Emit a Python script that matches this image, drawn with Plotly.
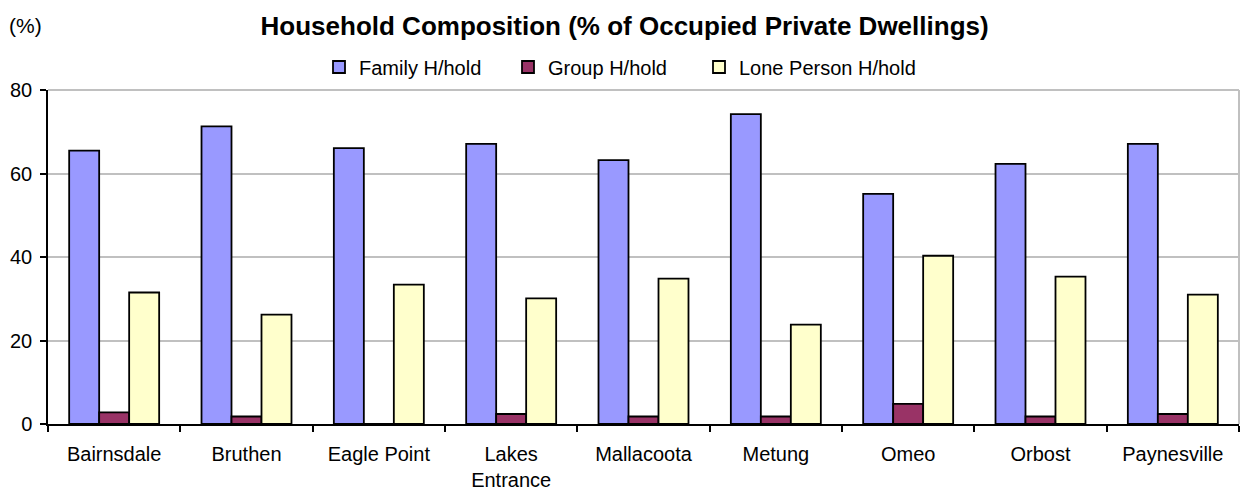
import plotly.graph_objects as go

categories = ["Bairnsdale", "Bruthen", "Eagle Point", "Lakes<br>Entrance", "Mallacoota",
              "Metung", "Omeo", "Orbost", "Paynesville"]
family = [65.5, 71.3, 66.1, 67.1, 63.2, 74.2, 55.1, 62.3, 67.1]
group = [2.8, 1.8, 0.0, 2.4, 1.8, 1.8, 4.8, 1.8, 2.4]
lone = [31.5, 26.2, 33.4, 30.1, 34.8, 23.8, 40.3, 35.3, 31.0]
y_ticks = [0, 20, 40, 60, 80]

FONT = "Liberation Sans, Arial, sans-serif"

fig = go.Figure()
fig.add_bar(x=categories, y=family, name="Family H/hold", legend="legend",
            marker=dict(color="#9999FF", line=dict(color="#000000", width=1.8)))
fig.add_bar(x=categories, y=group, name="Group H/hold", legend="legend2",
            marker=dict(color="#993366", line=dict(color="#000000", width=1.8)))
fig.add_bar(x=categories, y=lone, name="Lone Person H/hold", legend="legend3",
            marker=dict(color="#FFFFCC", line=dict(color="#000000", width=1.8)))


def legend_at(xpx):
    return dict(orientation="h", xref="container", yref="container",
                x=xpx / 1243, xanchor="left", y=1 - 67 / 496, yanchor="middle",
                font=dict(family=FONT, size=20), bgcolor="rgba(0,0,0,0)",
                itemwidth=30)


fig.update_layout(
    width=1243, height=496,
    margin=dict(l=48, r=4, t=90, b=72, autoexpand=False),
    paper_bgcolor="white", plot_bgcolor="white",
    barmode="group", bargap=0.32, bargroupgap=0,
    font=dict(family=FONT, size=20, color="#000000"),
    title=dict(text="<b>Household Composition (% of Occupied Private Dwellings)</b>",
               xref="container", yref="container",
               x=0.5025, xanchor="center", y=1 - 26 / 496, yanchor="middle",
               font=dict(family=FONT, size=26, color="#000000")),
    showlegend=True,
    legend=legend_at(319),
    legend2=legend_at(508),
    legend3=legend_at(699),
    annotations=[dict(text="(%)", xref="paper", yref="paper", x=-0.0345, y=1.193,
                      xanchor="left", yanchor="middle", showarrow=False,
                      font=dict(family=FONT, size=21))],
    shapes=[
        dict(type="line", xref="paper", yref="paper", x0=0, x1=1, y0=1, y1=1,
             line=dict(color="#C0C0C0", width=2)),
        dict(type="line", xref="paper", yref="paper", x0=1, x1=1, y0=0, y1=1,
             line=dict(color="#C0C0C0", width=2)),
    ],
)

fig.update_xaxes(
    type="category", automargin=False, showline=True, linecolor="#000000", linewidth=1.5,
    ticks="outside", tickson="boundaries", ticklen=6, tickcolor="#000000", tickwidth=1.5,
    showgrid=False, tickfont=dict(family=FONT, size=20), ticklabelstandoff=11,
)
fig.update_yaxes(
    range=[0, 80], tickvals=y_ticks, automargin=False, showline=True,
    linecolor="#000000", linewidth=1.5,
    ticks="outside", ticklen=6, tickcolor="#000000", tickwidth=1.5,
    showgrid=True, gridcolor="#C0C0C0", gridwidth=2, zeroline=False,
    tickfont=dict(family=FONT, size=20), ticklabelstandoff=4,
)

fig.write_html(
    "out.html",
    config={"displayModeBar": False},
    post_script="document.body.style.margin='0';document.body.style.overflow='hidden';",
)
